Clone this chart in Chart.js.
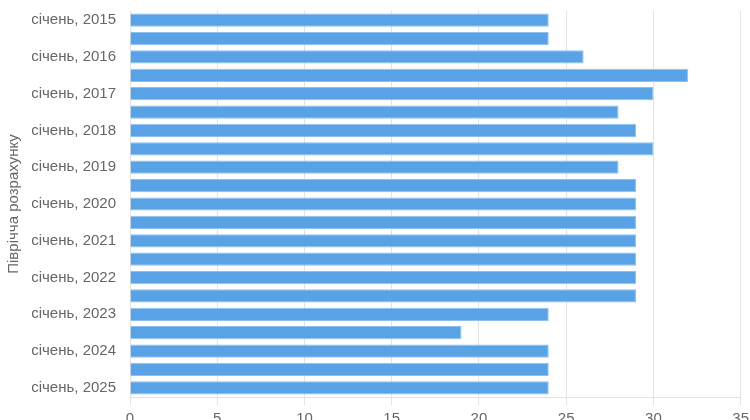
<!DOCTYPE html>
<html>
<head>
<meta charset="utf-8">
<script src="https://cdn.jsdelivr.net/npm/chart.js@4"></script>
<style>
  html, body { margin: 0; padding: 0; background: #fff; overflow: hidden; }
  #wrap { width: 754px; height: 437px; position: relative; margin-top: -4px; }
</style>
</head>
<body>
<div id="wrap"><canvas id="bar-chart"></canvas></div>
<script>
// half-year periods, Jan and Jul of each year
var periods = [
  "січень, 2015", "липень, 2015", "січень, 2016", "липень, 2016",
  "січень, 2017", "липень, 2017", "січень, 2018", "липень, 2018",
  "січень, 2019", "липень, 2019", "січень, 2020", "липень, 2020",
  "січень, 2021", "липень, 2021", "січень, 2022", "липень, 2022",
  "січень, 2023", "липень, 2023", "січень, 2024", "липень, 2024",
  "січень, 2025"
];
var values = [24, 24, 26, 32, 30, 28, 29, 30, 28, 29, 29, 29, 29, 29, 29, 29, 24, 19, 24, 24, 24];
var xTicks = [0, 5, 10, 15, 20, 25, 30, 35];
var yTitle = "Піврічча розрахунку";

Chart.defaults.font.family = "'Liberation Sans', Arial, sans-serif";
Chart.defaults.color = "#666";

new Chart(document.getElementById("bar-chart"), {
  type: 'bar',
  data: {
    labels: periods,
    datasets: [{
      data: values,
      backgroundColor: "#58a2e5",
      borderColor: "#8ec0ef",
      borderWidth: 1
    }]
  },
  options: {
    indexAxis: 'y',
    responsive: true,
    maintainAspectRatio: false,
    animation: false,
    layout: { padding: 0 },
    plugins: {
      legend: { display: false },
      tooltip: { enabled: false }
    },
    scales: {
      x: {
        min: xTicks[0],
        max: xTicks[xTicks.length - 1],
        afterBuildTicks: function (axis) {
          axis.ticks = xTicks.map(function (v) { return { value: v }; });
        },
        grid: { color: "#e3e3e3", tickLength: 8 },
        border: { color: "#e3e3e3" },
        ticks: { font: { size: 15 }, color: "#666", padding: 5 }
      },
      y: {
        afterFit: function (axis) { axis.width = 130; },
        grid: { display: false },
        border: { color: "#e3e3e3" },
        ticks: {
          autoSkip: false,
          font: { size: 15 },
          color: "#666",
          padding: 6,
          callback: function (v, i) { return i % 2 === 0 ? periods[i] : ""; }
        },
        title: { display: true, text: yTitle, font: { size: 15 }, color: "#666", padding: { top: 5, bottom: 0 } }
      }
    }
  }
});
</script>
</body>
</html>
